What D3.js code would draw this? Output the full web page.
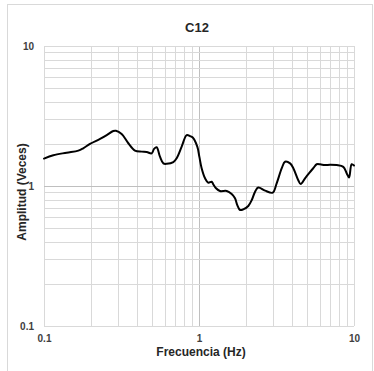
<!DOCTYPE html>
<html>
<head>
<meta charset="utf-8">
<script src="https://cdn.jsdelivr.net/npm/d3@7"></script>
<style>
  html, body { margin: 0; padding: 0; background: #fff; }
  svg { display: block; font-family: "Liberation Sans", Arial, sans-serif; }
</style>
</head>
<body>
<svg id="chart" width="374" height="371"></svg>
<script>
const title = "C12";
const xTitle = "Frecuencia (Hz)";
const yTitle = "Amplitud (Veces)";
const xTickLabels = [0.1, 1, 10];
const yTickLabels = [0.1, 1, 10];

const freq = [0.1, 0.1148, 0.140, 0.1665, 0.179, 0.198, 0.23, 0.254, 0.28, 0.291, 0.317, 0.350, 0.386,
  0.427, 0.46, 0.495, 0.513, 0.533, 0.56, 0.589, 0.619, 0.683, 0.718, 0.773, 0.833, 0.875, 0.911,
  0.975, 1.005, 1.04, 1.094, 1.148, 1.208, 1.233, 1.288, 1.365, 1.51, 1.625, 1.707, 1.766, 1.84,
  1.93, 2.08, 2.19, 2.30, 2.41, 2.67, 2.99, 3.17, 3.42, 3.59, 3.87, 4.06, 4.37, 4.53, 4.83, 5.15,
  5.46, 5.74, 6.04, 6.50, 7.0, 7.73, 8.53, 8.98, 9.29, 9.66, 10];
const amp = [1.57, 1.66, 1.73, 1.79, 1.86, 2.0, 2.17, 2.31, 2.47, 2.48, 2.35, 2.02, 1.79,
  1.76, 1.75, 1.71, 1.84, 1.89, 1.62, 1.45, 1.44, 1.48, 1.58, 1.91, 2.31, 2.27, 2.22,
  1.91, 1.62, 1.34, 1.135, 1.056, 1.073, 1.033, 0.963, 0.921, 0.921, 0.877, 0.817, 0.731, 0.674,
  0.681, 0.72, 0.794, 0.911, 0.975, 0.926, 0.896, 1.045, 1.34, 1.49, 1.45, 1.34, 1.10, 1.033, 1.135, 1.24,
  1.34, 1.43, 1.43, 1.41, 1.42, 1.41, 1.37, 1.23, 1.15, 1.43, 1.40];

const svg = d3.select("#chart");
const W = 374, H = 371;
const m = { left: 44, right: 20, top: 46, bottom: 45 };

// outer chart border
svg.append("rect")
  .attr("x", 7.5).attr("y", 4.5).attr("width", 365).attr("height", 380)
  .attr("fill", "none").attr("stroke", "#d9d9d9").attr("stroke-width", 1);

const x = d3.scaleLog().domain([0.1, 10]).range([m.left, W - m.right]);
const y = d3.scaleLog().domain([0.1, 10]).range([H - m.bottom, m.top]);

const xAll = x.ticks();
const yAll = y.ticks();

const grid = svg.append("g");
grid.selectAll("line.vx").data(xAll).join("line")
  .attr("x1", d => Math.round(x(d)) + 0.5).attr("x2", d => Math.round(x(d)) + 0.5)
  .attr("y1", y(10)).attr("y2", y(0.1))
  .attr("stroke", d => d === 1 ? "#bfbfbf" : "#d9d9d9").attr("stroke-width", 1);
grid.selectAll("line.hy").data(yAll).join("line")
  .attr("y1", d => Math.round(y(d)) + 0.5).attr("y2", d => Math.round(y(d)) + 0.5)
  .attr("x1", x(0.1)).attr("x2", x(10))
  .attr("stroke", d => d === 1 ? "#bfbfbf" : "#d9d9d9").attr("stroke-width", 1);

// axes (labels only)
const fmt = d => d >= 1 ? d3.format("d")(d) : String(d);
const xAxis = svg.append("g").attr("transform", `translate(0,${H - m.bottom})`)
  .call(d3.axisBottom(x).tickValues(xTickLabels).tickFormat(fmt).tickSize(0).tickPadding(9));
xAxis.select(".domain").remove();
xAxis.selectAll("text").attr("font-size", 10).attr("font-weight", "bold").attr("fill", "#404040")
  .attr("font-family", "Liberation Sans, Arial, sans-serif");

const yAxis = svg.append("g").attr("transform", `translate(${m.left},0)`)
  .call(d3.axisLeft(y).tickValues(yTickLabels).tickFormat(fmt).tickSize(0).tickPadding(10));
yAxis.select(".domain").remove();
yAxis.selectAll("text").attr("font-size", 10).attr("font-weight", "bold").attr("fill", "#404040")
  .attr("font-family", "Liberation Sans, Arial, sans-serif");

// data line
const pts = freq.map((f, i) => [f, amp[i]]);
svg.append("path").datum(pts)
  .attr("fill", "none").attr("stroke", "#000").attr("stroke-width", 2)
  .attr("stroke-linejoin", "round").attr("stroke-linecap", "round")
  .attr("d", d3.line().x(d => x(d[0])).y(d => y(d[1])).curve(d3.curveCatmullRom.alpha(0.5)));

// titles
svg.append("text").attr("x", 197).attr("y", 32).attr("text-anchor", "middle")
  .attr("font-size", 13).attr("font-weight", "bold").attr("fill", "#262626").text(title);
svg.append("text").attr("x", 201).attr("y", 356).attr("text-anchor", "middle")
  .attr("font-size", 12).attr("font-weight", "bold").attr("fill", "#262626").text(xTitle);
svg.append("text").attr("transform", "translate(26,192) rotate(-90)").attr("text-anchor", "middle")
  .attr("font-size", 12).attr("font-weight", "bold").attr("fill", "#262626").text(yTitle);
</script>
</body>
</html>
